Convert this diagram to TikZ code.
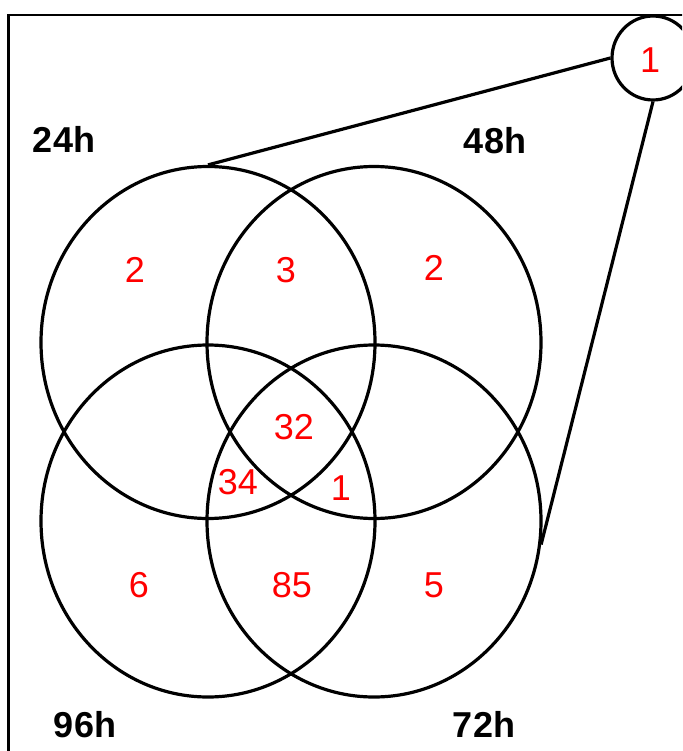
\documentclass[tikz,border=0pt]{standalone}
\usepackage{fontspec}
\setmainfont{Liberation Sans}
\usetikzlibrary{shapes.geometric}

\tikzset{
    vennset/.style={draw, line width=3.2pt, ellipse, minimum width=334pt, minimum height=352pt, inner sep=0pt},
    countlabel/.style={text=red, inner sep=0pt, font=\fontsize{36}{40}\selectfont},
    setlabel/.style={inner sep=0pt, font=\fontsize{36}{40}\selectfont\bfseries}
}

\begin{document}
\begin{tikzpicture}[x=1pt, y=-1pt]
    \clip (0,0) rectangle (682,751);

    % Frame
    \draw[line width=2.4pt] (8.5,760) -- (8.5,15) -- (700,15);

    % The four sets
    \foreach \nm/\x/\y in {24/208/342.5, 48/374/342.5, 96/208/521, 72/374/521} {
        \node[vennset] (C\nm) at (\x,\y) {};
    }

    % The lonely set
    \node[draw, line width=3.2pt, ellipse, minimum width=82pt, minimum height=84pt, inner sep=0pt] (lone) at (653,58) {};
    \node[countlabel] (n0) at (650,60) {1};

    % Connectors
    \draw[line width=3.2pt] (lone.west) -- (C24.north);
    \draw[line width=3.2pt] (lone.south) -- (C72.-8);

    % Set names
    \node[setlabel] (L24) at (64,139) {24h};
    \node[setlabel] (L48) at (495,141) {48h};
    \node[setlabel] (L96) at (85,725) {96h};
    \node[setlabel] (L72) at (484,724) {72h};

    % Counts in the regions
    \foreach \v/\x/\y [count=\k] in {2/135/270, 3/286/270, 2/434/268, 32/294/427, 34/238/482,
                                     1/341/488, 6/139/585, 85/292/585, 5/434/585} {
        \node[countlabel] (n\k) at (\x,\y) {\v};
    }

\end{tikzpicture}
\end{document}
